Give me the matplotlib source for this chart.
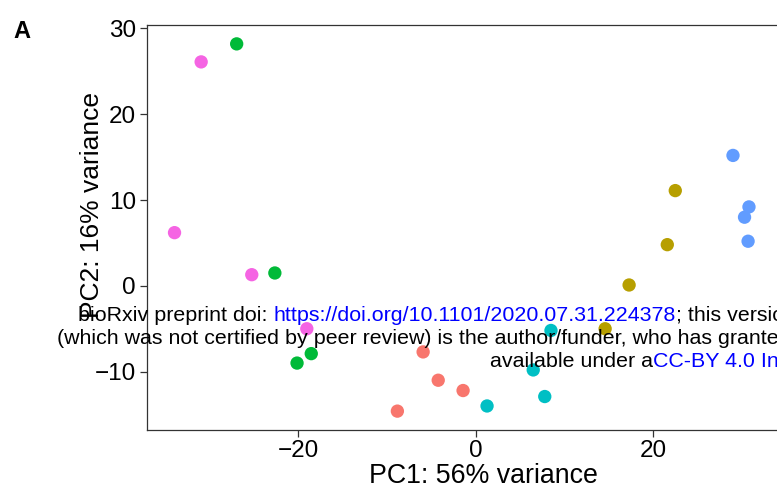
import matplotlib
matplotlib.use("Agg")
import matplotlib.pyplot as plt

# ---- data ----
groups = ["salmon", "olive", "green", "cyan", "blue", "pink"]
colors = ["#F8766D", "#B79F00", "#00BA38", "#00BFC4", "#619CFF", "#F564E3"]
pc1 = {
    "salmon": [-5.9, -4.2, -1.4, -8.8],
    "olive": [14.6, 17.3, 21.6, 22.5],
    "green": [-26.9, -22.6, -20.1, -18.5],
    "cyan": [1.3, 6.5, 7.8, 8.5],
    "blue": [29.0, 30.8, 30.3, 30.7],
    "pink": [-30.9, -33.9, -25.2, -19.0],
}
pc2 = {
    "salmon": [-7.7, -11.0, -12.2, -14.6],
    "olive": [-5.0, 0.1, 4.8, 11.1],
    "green": [28.2, 1.5, -9.0, -7.9],
    "cyan": [-14.0, -9.8, -12.9, -5.2],
    "blue": [15.2, 9.2, 8.0, 5.2],
    "pink": [26.1, 6.2, 1.3, -5.0],
}
xticks = [-20, 0, 20]
yticks = [-10, 0, 10, 20, 30]

W, H = 777, 494
fig = plt.figure(figsize=(W / 100, H / 100), dpi=100)
plt.rcParams['font.family'] = ['Liberation Sans', 'DejaVu Sans']

ax = fig.add_axes([147 / W, (H - 430) / H, (820 - 147) / W, 405 / H])
for g, c in zip(groups, colors):
    ax.scatter(pc1[g], pc2[g], s=92, color=c, edgecolors='none', zorder=3)

ax.set_xlim(-37.0, 38.8)
ax.set_ylim(-16.8, 30.4)
ax.set_xticks(xticks)
ax.set_yticks(yticks)
ax.set_xticklabels(["\u221220", "0", "20"])
ax.set_yticklabels(["\u221210", "0", "10", "20", "30"])
for sp in ax.spines.values():
    sp.set_color("#333333")
    sp.set_linewidth(0.9)
ax.tick_params(axis='both', length=5, width=0.9, color="#333333",
               labelsize=17.5, labelcolor='black')
ax.tick_params(axis='x', pad=2)
ax.tick_params(axis='y', pad=3)
ax.set_xlabel("PC1: 56% variance", fontsize=19.3, labelpad=1)
ax.set_ylabel("PC2: 16% variance", fontsize=19)
ax.yaxis.set_label_coords(-0.064, 0.556)

fig.text(13 / W, 1 - 31 / H, "A", fontsize=17, fontweight='bold', va='center')

# ---- overlay watermark text ----
fs = 15.4
lines = [
    (78, 321, [("bioRxiv preprint doi: ", "black"),
               ("https://doi.org/10.1101/2020.07.31.224378", "blue"),
               ("; this version posted August 1, 2020. The copyright holder for this preprint", "black")]),
    (57, 344, [("(which was not certified by peer review) is the author/funder, who has granted bioRxiv a license to display the preprint in perpetuity. It is made", "black")]),
    (490, 367, [("available under a", "black"),
                ("CC-BY 4.0 International license", "blue")]),
]
fig.canvas.draw()
renderer = fig.canvas.get_renderer()
for x0, yb, parts in lines:
    x = x0
    for txt, col in parts:
        t = fig.text(x / W, 1 - yb / H, txt, color=col, fontsize=fs,
                     ha='left', va='baseline', zorder=10)
        bb = t.get_window_extent(renderer)
        x = bb.x1

fig.savefig("out.png", dpi=100)
